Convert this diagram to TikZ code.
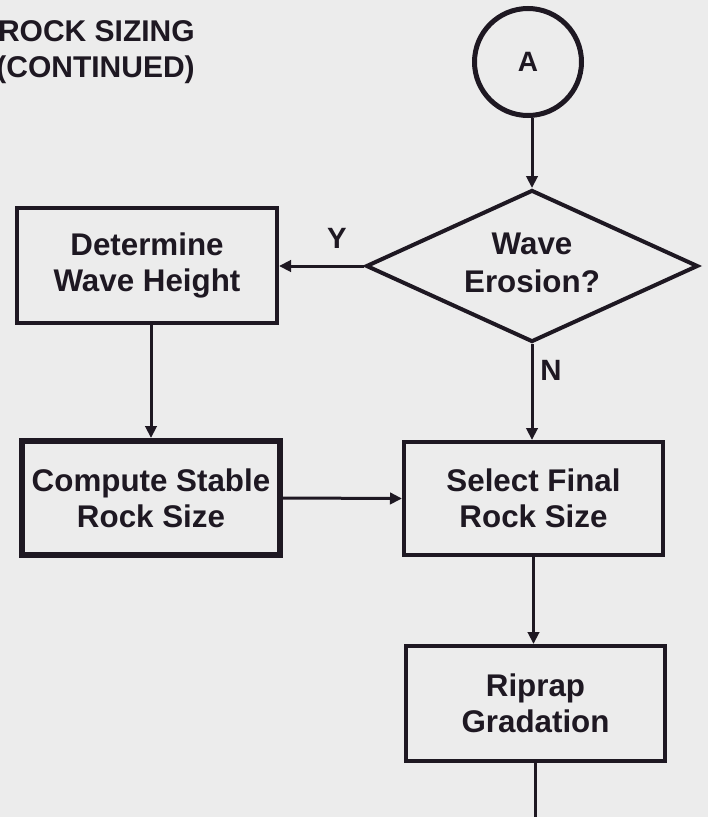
\documentclass[tikz,border=0pt]{standalone}
\usepackage{fontspec}
\setmainfont{Liberation Sans}
\usetikzlibrary{arrows.meta,shapes.geometric}
\definecolor{paper}{RGB}{236,236,236}
\definecolor{ink}{RGB}{30,24,34}
\tikzset{
  conn/.style={line width=2.25pt, draw=ink, -{Triangle[length=9pt,width=8.5pt]}},
  plain/.style={line width=2.25pt, draw=ink},
  txt/.style={text=ink, font=\bfseries\fontsize{23.5}{27}\selectfont},
  box/.style={draw=ink, line width=3pt, rectangle, inner sep=0pt, align=center, txt},
  lbl/.style={text=ink, inner sep=0pt, font=\bfseries\fontsize{22}{25}\selectfont}
}
\begin{document}
\begin{tikzpicture}[x=0.75pt,y=-0.75pt]
\fill[paper] (0,0) rectangle (708,817);
\useasboundingbox (0,0) rectangle (708,817);
% title
\node[text=ink, inner sep=0pt, align=right, anchor=east,
      font=\bfseries\fontsize{22.5}{27.4}\selectfont] (title) at (195,52) {ROCK SIZING\\(CONTINUED)};
% connector A
\node[circle, draw=ink, line width=3.75pt, minimum size=107*0.75pt, inner sep=0pt,
      text=ink, font=\bfseries\fontsize{21}{25}\selectfont] (A) at (528,62) {A};
% decision
\node[diamond, draw=ink, line width=3pt, shape aspect=2.16, inner sep=0pt,
      minimum width=332*0.75pt, minimum height=152*0.75pt, txt,
      font=\bfseries\fontsize{23.5}{28.5}\selectfont] (D) at (532,266)
      {\raisebox{3.5pt}{\begin{tabular}{@{}c@{}}Wave\\Erosion?\end{tabular}}};
% boxes
\node[box, minimum width=260*0.75pt, minimum height=115*0.75pt] (B1) at (147,265.5) {Determine\\Wave Height};
\node[box, line width=4.5pt, minimum width=258*0.75pt, minimum height=114*0.75pt] (B2) at (151,498) {Compute Stable\\Rock Size};
\node[box, minimum width=259*0.75pt, minimum height=113*0.75pt] (B3) at (533.5,498.5) {Select Final\\Rock Size};
\node[box, minimum width=259*0.75pt, minimum height=115*0.75pt] (B4) at (535.5,703.5) {Riprap\\Gradation};
\coordinate (bottom) at (535.5,817);
% connectors
\draw[conn] (D.north |- A.south) -- (D.north);
\draw[conn] (D.west) -- (D.west -| B1.east);
\node[lbl] (Y) at (337,238) {Y};
\draw[conn] (B2.north |- B1.south) -- (B2.north);
\draw[conn] (B2.east) -- (B3.west);
\draw[conn] (D.south) -- (D.south |- B3.north);
\node[lbl, anchor=west] (N) at (540,370) {N};
\draw[conn] (B3.south) -- (B3.south |- B4.north);
\draw[plain] (B4.south) -- (B4.south |- bottom);
\end{tikzpicture}
\end{document}
